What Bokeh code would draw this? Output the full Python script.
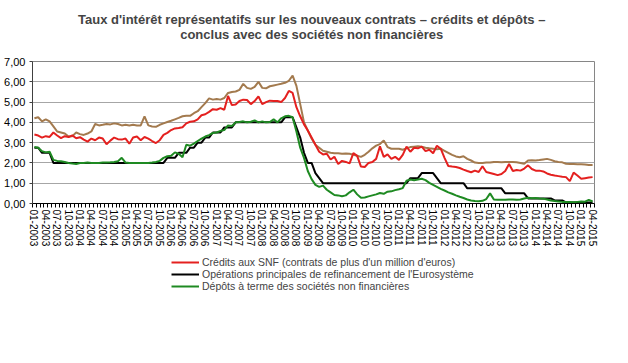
import numpy as np
from bokeh.plotting import figure
from bokeh.layouts import column
from bokeh.models import Range1d, FixedTicker, Legend, LegendItem, Title, ColumnDataSource
from bokeh.embed import file_html
from bokeh.resources import INLINE

title_line1 = "Taux d'intérêt représentatifs  sur les nouveaux contrats – crédits et dépôts –"
title_line2 = "conclus avec des sociétés  non financières"

months = [f"{m:02d}-{y}" for y in range(2003, 2016) for m in range(1, 13)][:148]
x_tick_labels = months[::3]
y_ticks = [0, 1, 2, 3, 4, 5, 6, 7]
y_tick_labels = ["0,00", "1,00", "2,00", "3,00", "4,00", "5,00", "6,00", "7,00"]

legend_labels = [
    "Crédits aux SNF (contrats de plus d'un million d'euros)",
    "Opérations principales de refinancement de l'Eurosystème",
    "Dépôts à terme des sociétés non financières",
]

# Crédits aux SNF, contrats de plus d'un million d'euros (red)
credits_plus_1m = [
    3.40, 3.35, 3.25, 3.32, 3.28, 3.50, 3.35, 3.22, 3.32, 3.28, 3.36, 3.22,
    3.27, 3.15, 3.05, 3.20, 3.12, 3.25, 3.20, 2.92, 3.10, 3.25, 3.17, 3.15,
    3.20, 2.95, 3.25, 3.30, 3.12, 3.28, 3.20, 3.08, 2.98, 3.12, 3.38, 3.48,
    3.62, 3.70, 3.72, 3.76, 3.95, 4.03, 4.05, 4.15, 4.35, 4.40, 4.52, 4.65,
    4.62, 4.70, 4.62, 5.30, 4.85, 4.88, 5.05, 5.12, 5.10, 4.90, 5.05, 5.28,
    4.90, 5.00, 5.07, 5.05, 5.05, 5.00, 5.20, 5.55, 5.45, 4.75, 4.30, 3.90,
    3.60, 3.25, 2.90, 2.55, 2.42, 2.45, 2.17, 2.30, 1.95, 2.10, 2.05, 1.98,
    2.48, 2.35, 1.82, 1.80, 2.00, 2.05, 2.20, 2.82, 2.30, 2.42, 2.20, 2.30,
    2.15, 2.40, 2.80, 2.55, 2.75, 2.72, 2.80, 2.58, 2.65, 2.48, 2.85, 2.70,
    2.25, 1.85, 1.82, 1.80, 1.75, 1.67, 1.60, 1.54, 1.62, 1.55, 1.84, 1.55,
    1.50, 1.45, 1.40, 1.45, 1.60, 1.95, 1.60, 1.65, 1.62, 1.72, 1.88, 1.70,
    1.62, 1.62, 1.58, 1.48, 1.42, 1.38, 1.35, 1.32, 1.30, 1.10, 1.52, 1.38,
    1.22, 1.25, 1.28, 1.30,
]

# Crédits aux SNF, contrats de moins d'un million d'euros (brown, not in legend)
credits_moins_1m = [
    4.20, 4.25, 4.05, 4.15, 4.05, 3.80, 3.55, 3.50, 3.45, 3.30, 3.32, 3.50,
    3.42, 3.38, 3.45, 3.55, 3.92, 3.85, 3.88, 3.92, 3.90, 3.95, 3.92, 3.85,
    3.88, 3.85, 3.88, 3.85, 3.85, 4.30, 3.85, 3.80, 3.78, 3.88, 3.95, 4.02,
    4.08, 4.15, 4.22, 4.30, 4.33, 4.32, 4.45, 4.55, 4.75, 4.95, 5.18, 5.12,
    5.15, 5.12, 5.20, 5.45, 5.50, 5.52, 5.60, 5.90, 5.70, 5.65, 5.75, 6.00,
    5.70, 5.68, 5.78, 5.82, 5.86, 5.90, 5.95, 6.05, 6.30, 5.80, 4.90, 4.00,
    3.60, 3.20, 2.90, 2.75, 2.60, 2.55, 2.50, 2.48, 2.48, 2.45, 2.47, 2.45,
    2.40, 2.35, 2.30, 2.40, 2.55, 2.72, 2.85, 2.93, 3.10, 2.78, 2.70, 2.70,
    2.70, 2.65, 2.72, 2.78, 2.80, 2.82, 2.80, 2.75, 2.72, 2.70, 2.68, 2.70,
    2.60, 2.50, 2.40, 2.32, 2.28, 2.33, 2.20, 2.12, 2.02, 2.00, 2.00, 2.02,
    2.02, 2.05, 2.04, 2.03, 2.05, 2.04, 2.04, 2.03, 2.00, 1.96, 2.12, 2.13,
    2.12, 2.14, 2.17, 2.20, 2.15, 2.08, 2.05, 2.03, 1.96, 1.95, 1.95, 1.94,
    1.93, 1.92, 1.90, 1.90,
]

# Opérations principales de refinancement de l'Eurosystème (black)
refi_eurosysteme = [
    2.75, 2.75, 2.50, 2.50, 2.50, 2.00, 2.00, 2.00, 2.00, 2.00, 2.00, 2.00,
    2.00, 2.00, 2.00, 2.00, 2.00, 2.00, 2.00, 2.00, 2.00, 2.00, 2.00, 2.00,
    2.00, 2.00, 2.00, 2.00, 2.00, 2.00, 2.00, 2.00, 2.00, 2.00, 2.00, 2.25,
    2.25, 2.25, 2.50, 2.50, 2.50, 2.75, 2.75, 3.00, 3.00, 3.25, 3.25, 3.50,
    3.50, 3.50, 3.75, 3.75, 3.75, 4.00, 4.00, 4.00, 4.00, 4.00, 4.00, 4.00,
    4.00, 4.00, 4.00, 4.00, 4.00, 4.00, 4.25, 4.25, 4.25, 3.75, 3.25, 2.50,
    2.00, 2.00, 1.50, 1.25, 1.00, 1.00, 1.00, 1.00, 1.00, 1.00, 1.00, 1.00,
    1.00, 1.00, 1.00, 1.00, 1.00, 1.00, 1.00, 1.00, 1.00, 1.00, 1.00, 1.00,
    1.00, 1.00, 1.00, 1.25, 1.25, 1.25, 1.50, 1.50, 1.50, 1.50, 1.25, 1.00,
    1.00, 1.00, 1.00, 1.00, 1.00, 1.00, 0.75, 0.75, 0.75, 0.75, 0.75, 0.75,
    0.75, 0.75, 0.75, 0.75, 0.50, 0.50, 0.50, 0.50, 0.50, 0.50, 0.25, 0.25,
    0.25, 0.25, 0.25, 0.25, 0.25, 0.15, 0.15, 0.15, 0.05, 0.05, 0.05, 0.05,
    0.05, 0.05, 0.05, 0.05,
]

# Dépôts à terme des sociétés non financières (green)
depots_terme = [
    2.78, 2.75, 2.58, 2.52, 2.55, 2.15, 2.10, 2.08, 2.05, 2.00, 1.97, 1.95,
    2.00, 2.00, 2.02, 2.00, 2.00, 2.00, 2.02, 2.02, 2.03, 2.05, 2.08, 2.25,
    2.02, 2.00, 2.00, 2.00, 2.00, 2.00, 2.00, 2.02, 2.05, 2.10, 2.25, 2.33,
    2.35, 2.52, 2.45, 2.28, 2.90, 2.85, 2.95, 3.08, 3.20, 3.30, 3.37, 3.48,
    3.50, 3.58, 3.62, 3.85, 3.82, 4.00, 4.02, 4.05, 4.00, 4.03, 4.10, 4.00,
    4.05, 4.00, 4.02, 4.15, 4.00, 4.20, 4.30, 4.32, 4.25, 3.55, 2.75, 2.25,
    1.60, 1.20, 0.92, 0.82, 0.88, 0.68, 0.55, 0.42, 0.40, 0.36, 0.40, 0.55,
    0.68, 0.45, 0.28, 0.30, 0.35, 0.40, 0.45, 0.52, 0.48, 0.58, 0.60, 0.66,
    0.70, 0.76, 1.12, 1.18, 1.15, 1.18, 1.22, 1.15, 1.02, 0.92, 0.82, 0.72,
    0.64, 0.55, 0.48, 0.40, 0.33, 0.27, 0.20, 0.15, 0.12, 0.11, 0.13, 0.22,
    0.50, 0.20, 0.18, 0.18, 0.18, 0.20, 0.20, 0.18, 0.20, 0.25, 0.28, 0.26,
    0.27, 0.25, 0.24, 0.20, 0.15, 0.12, 0.10, 0.08, 0.07, 0.08, 0.06, 0.08,
    0.10, 0.09, 0.18, 0.10,
]

FONT = "Liberation Sans"
RED = "#E4201F"
BROWN = "#A37A4E"
BLACK = "#000000"
GREEN = "#1E8A22"

x_idx = np.arange(len(months))
src = ColumnDataSource(dict(
    x=x_idx,
    red=credits_plus_1m,
    brown=credits_moins_1m,
    black=refi_eurosysteme,
    green=depots_terme,
))

p = figure(
    frame_width=562, frame_height=142,
    min_border_left=32, min_border_right=18, min_border_top=61, min_border_bottom=0,
    x_range=Range1d(-0.5, len(months) - 0.5), y_range=Range1d(0, 7),
    output_backend="svg", toolbar_location=None,
    title=title_line1,
)
# figure's own title is outermost; added titles stack outward from the frame
p.title.align = "center"
p.title.text_font = FONT
p.title.text_font_size = "13px"
p.title.text_font_style = "bold"
p.title.standoff = -2
spacer = Title(text=" ", align="center", text_font=FONT, text_font_size="10px", standoff=8)
p.add_layout(spacer, "above")
t2 = Title(text=title_line2, align="center", text_font=FONT, text_font_size="13px",
           text_font_style="bold", standoff=-2)
p.add_layout(t2, "above")

p.background_fill_color = "white"
p.border_fill_color = "white"
p.outline_line_color = "#868686"

# axes
p.yaxis.ticker = FixedTicker(ticks=y_ticks)
p.yaxis.major_label_overrides = {t: l for t, l in zip(y_ticks, y_tick_labels)}
p.yaxis.major_label_text_font = FONT
p.yaxis.major_label_text_font_size = "11px"
p.yaxis.major_label_text_color = "black"
p.yaxis.axis_line_color = "#404040"
p.yaxis.major_tick_line_color = "#404040"
p.yaxis.major_tick_out = 3
p.yaxis.major_tick_in = 0
p.yaxis.minor_tick_line_color = None
p.yaxis.major_label_standoff = 4

x_ticks = list(range(0, len(months), 3))
p.xaxis.ticker = FixedTicker(ticks=x_ticks, minor_ticks=[i - 0.5 for i in range(len(months) + 1)])
p.xaxis.major_label_overrides = {t: l for t, l in zip(x_ticks, x_tick_labels)}
p.xaxis.major_label_orientation = "vertical"
p.xaxis.major_label_text_font = FONT
p.xaxis.major_label_text_font_size = "10px"
p.xaxis.major_label_text_color = "black"
p.xaxis.major_tick_line_color = None
p.xaxis.major_tick_out = 4
p.xaxis.major_tick_in = 0
p.xaxis.minor_tick_line_color = "black"
p.xaxis.minor_tick_out = 4
p.xaxis.minor_tick_in = 0
p.xaxis.axis_line_color = "black"
p.xaxis.major_label_standoff = 2

p.xgrid.grid_line_color = None
p.ygrid.ticker = FixedTicker(ticks=y_ticks)
p.ygrid.grid_line_color = "#A6A6A6"

lw = 2
p.line("x", "brown", source=src, line_color=BROWN, line_width=lw)
p.line("x", "red", source=src, line_color=RED, line_width=lw)
p.line("x", "black", source=src, line_color=BLACK, line_width=lw)
p.line("x", "green", source=src, line_color=GREEN, line_width=lw)

# legend strip below the chart (stand-in renderers hold no visible data)
leg = figure(
    width=612, height=50, x_range=Range1d(0, 1), y_range=Range1d(0, 1),
    x_axis_location=None, y_axis_location=None,
    min_border_left=0, min_border_right=0, min_border_top=0, min_border_bottom=0,
    output_backend="svg", toolbar_location=None,
)
leg.outline_line_color = None
leg.grid.visible = False
leg.background_fill_color = "white"
leg.border_fill_color = "white"
blank = ColumnDataSource(dict(x=[np.nan, np.nan], y=[np.nan, np.nan]))
l_red = leg.line("x", "y", source=blank, line_color=RED, line_width=lw)
l_black = leg.line("x", "y", source=blank, line_color=BLACK, line_width=lw)
l_green = leg.line("x", "y", source=blank, line_color=GREEN, line_width=lw)

legend = Legend(
    items=[
        LegendItem(label=legend_labels[0], renderers=[l_red]),
        LegendItem(label=legend_labels[1], renderers=[l_black]),
        LegendItem(label=legend_labels[2], renderers=[l_green]),
    ],
    location=(139, 50 - 36 - 7),
    label_text_font=FONT, label_text_font_size="10.5px",
    glyph_width=28, glyph_height=12, label_height=12,
    spacing=0, padding=0, margin=0, label_standoff=3,
    border_line_color=None, background_fill_alpha=0,
)
leg.add_layout(legend)

layout = column(p, leg, spacing=0)
open("out.html", "w").write(file_html(layout, INLINE))
